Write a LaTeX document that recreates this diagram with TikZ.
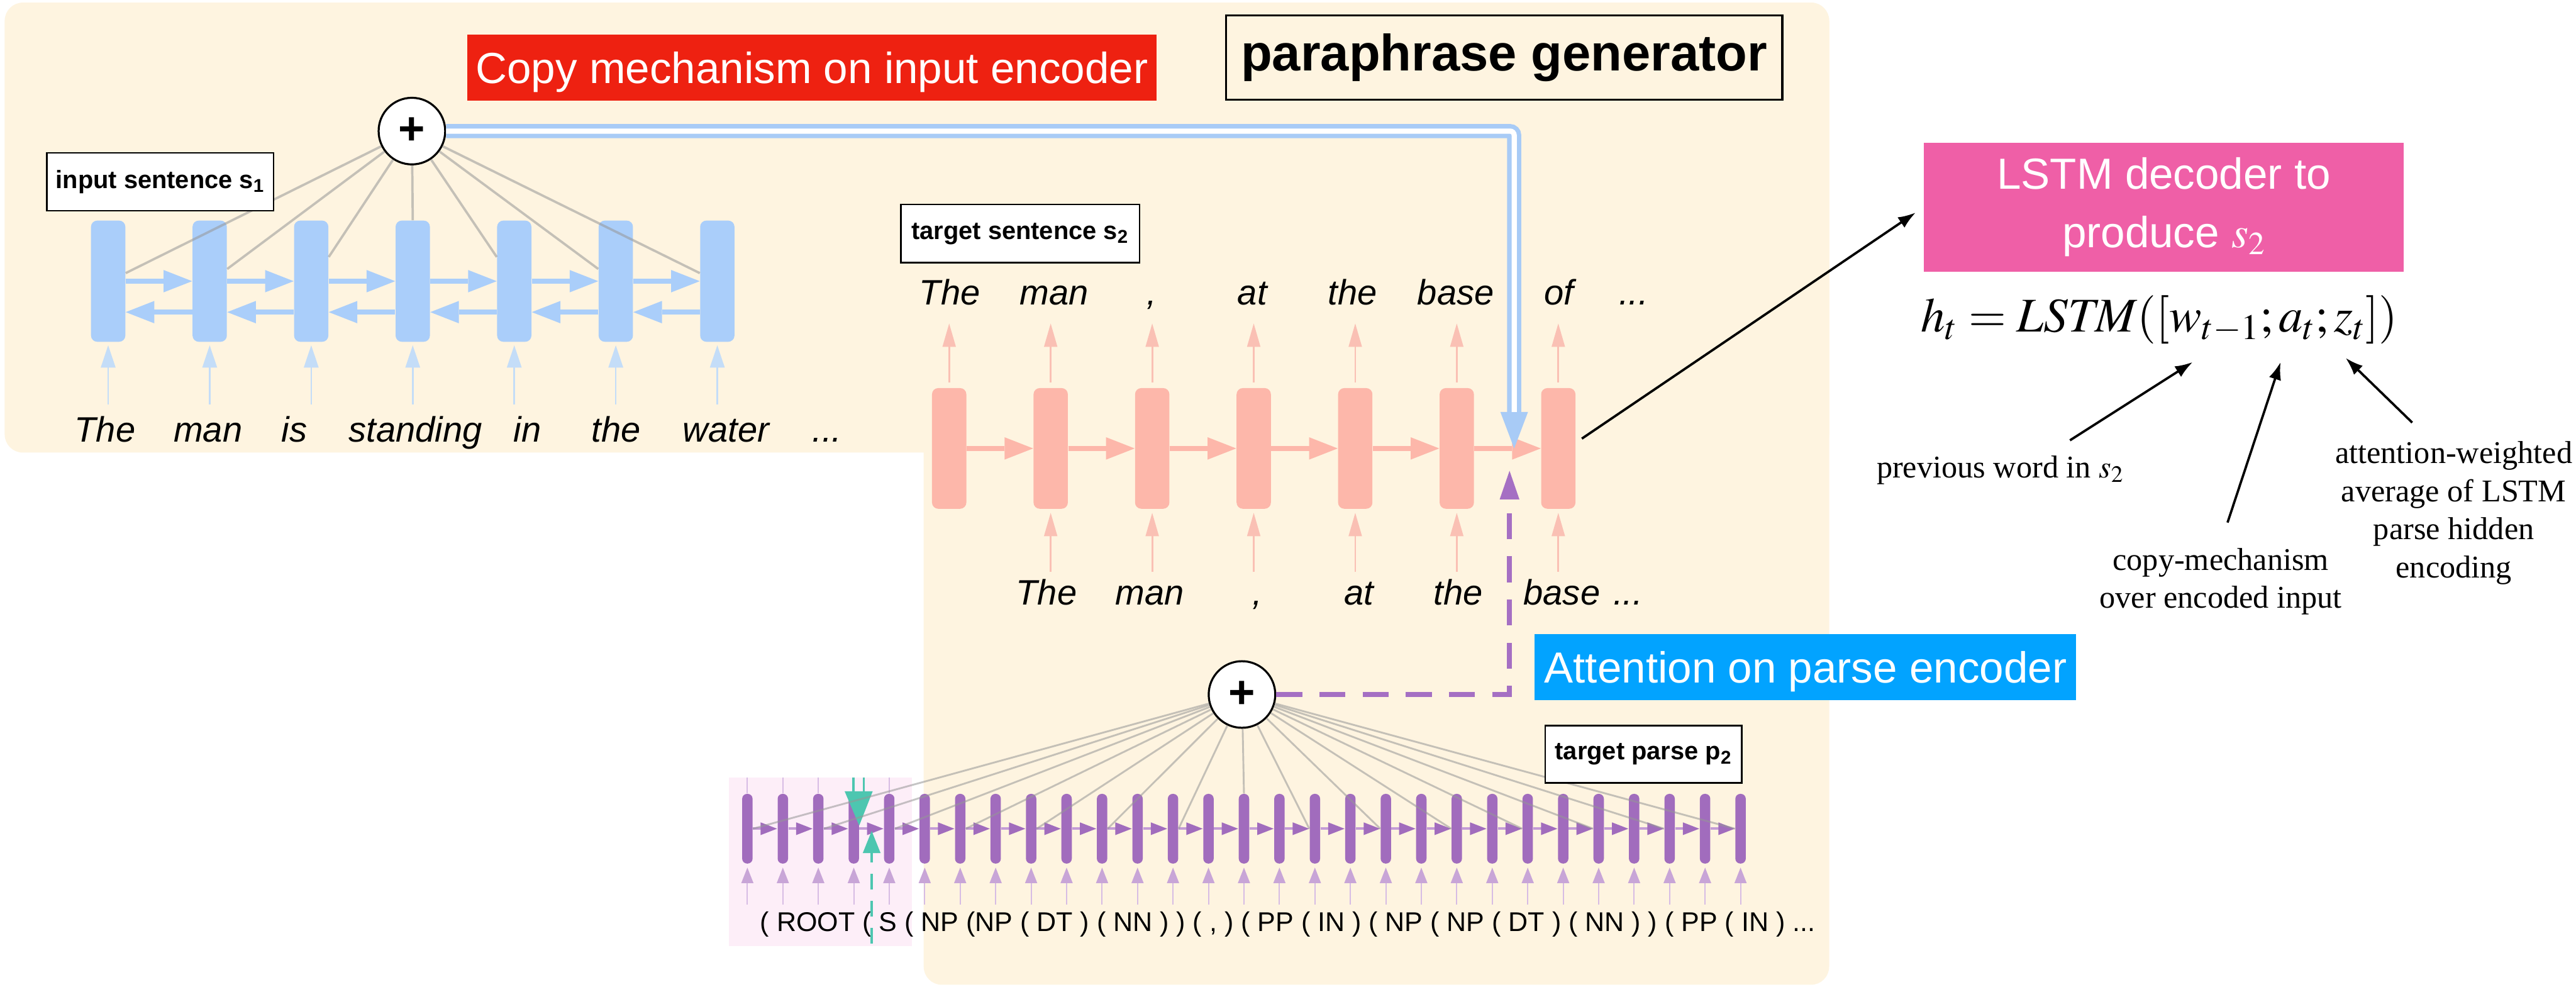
\documentclass[tikz,border=0pt]{standalone}
\usepackage{mathptmx}
\usepackage{fontspec}
\setmainfont{Liberation Serif}
\setsansfont{Liberation Sans}
\usetikzlibrary{arrows.meta,calc,positioning}

\definecolor{cream}{RGB}{254,244,224}
\definecolor{encblue}{RGB}{170,206,250}
\definecolor{encbluelight}{RGB}{196,221,248}
\definecolor{decpink}{RGB}{253,183,170}
\definecolor{decpinklight}{RGB}{250,192,180}
\definecolor{parsepurple}{RGB}{161,108,189}
\definecolor{parseline}{RGB}{196,156,214}
\definecolor{parselight}{RGB}{215,188,228}
\definecolor{parsehead}{RGB}{200,165,215}
\definecolor{parsebg}{RGB}{253,238,248}
\definecolor{tealc}{RGB}{77,198,176}
\definecolor{attpurple}{RGB}{165,111,195}
\definecolor{copyblue}{RGB}{168,203,246}
\definecolor{attgray}{RGB}{150,150,150}
\definecolor{bannerred}{RGB}{238,33,17}
\definecolor{bannerblue}{RGB}{2,163,255}
\definecolor{bannerpink}{RGB}{239,95,167}

\newcommand{\wordfont}{\sffamily\itshape\fontsize{19.3}{23}\selectfont}
\newcommand{\tagfont}{\sffamily\bfseries\fontsize{13.7}{16}\selectfont}
\newcommand{\bannerfont}{\sffamily\fontsize{23.8}{32}\selectfont}
\newcommand{\titlefont}{\sffamily\bfseries\fontsize{28}{32}\selectfont}
\newcommand{\parsefont}{\sffamily\fontsize{14.8}{17}\selectfont}
\newcommand{\notefont}{\rmfamily\fontsize{17.3}{20.8}\selectfont}
\newcommand{\eqfont}{\rmfamily\fontsize{26.5}{30}\selectfont}

\tikzset{
  enccell/.style={fill=encblue, minimum width=0.66cm, minimum height=2.33cm, inner sep=0pt, rounded corners=0.12cm},
  deccell/.style={enccell, fill=decpink, minimum height=2.32cm},
  parsecell/.style={fill=parsepurple, minimum width=0.2cm, minimum height=1.34cm, inner sep=0pt, rounded corners=0.095cm},
  sumnode/.style={circle, draw=black, line width=1.1pt, fill=white, minimum size=1.28cm, inner sep=0pt, font=\sffamily\bfseries\fontsize{25}{25}\selectfont},
  tagbox/.style={draw=black, line width=0.9pt, fill=white, inner sep=0pt, font=\tagfont},
  banner/.style={text=white, inner sep=0pt, font=\bannerfont},
  wordtok/.style={anchor=base, inner sep=0.1cm, font=\wordfont},
  encfwd/.style={draw=encblue, line width=0.09cm, -{Triangle[length=0.55cm, width=0.43cm, line width=0pt]}},
  encin/.style={draw=encbluelight, line width=0.03cm, shorten >=0.06cm, -{Triangle[length=0.43cm, width=0.28cm]}},
  decfwd/.style={encfwd, draw=decpink},
  decio/.style={draw=decpinklight, line width=0.035cm, -{Triangle[length=0.45cm, width=0.25cm]}},
  parsefwd/.style={draw=parseline, line width=0.05cm, -{Triangle[length=0.32cm, width=0.23cm, color=parsepurple]}},
  parsein/.style={draw=parselight, line width=0.025cm, shorten >=0.07cm, -{Triangle[length=0.30cm, width=0.23cm, color=parsehead]}},
  attline/.style={draw=attgray, line width=0.035cm, opacity=0.55},
  attdash/.style={draw=attpurple, line width=0.1cm, dash pattern=on 0.5cm off 0.33cm, -{Triangle[length=0.55cm, width=0.38cm, line width=0pt]}},
  annarrow/.style={draw=black, line width=0.045cm, -{Latex[length=0.34cm, width=0.24cm]}},
}

\begin{document}
\begin{tikzpicture}[x=1cm, y=-1cm]
\useasboundingbox (0,0) rectangle (49.53,18.97);
\fill[white] (0,0) rectangle (49.53,18.97);

% generator panel and the parse overlay
\fill[cream, rounded corners=0.35cm] (0.09,0.05) rectangle (35.17,8.70);
\fill[cream, rounded corners=0.35cm] (17.76,0.05) rectangle (35.17,18.93);
\fill[parsebg] (14.01,14.94) rectangle (17.53,18.19);

% input encoder
\foreach \i in {1,...,7}
  \node[enccell] (e\i) at ({2.08+1.952*(\i-1)},5.405) {};
\foreach \w/\x [count=\i] in {The/2.02, man/4.00, is/5.66, standing/7.99, in/10.14, the/11.85, water/13.96}
  \node[wordtok, text height=0.62cm] (w\i) at (\x,8.50) {\w};
\node[wordtok] (wdots) at (15.90,8.50) {...};
\foreach \i in {1,...,7}
  \draw[encin] (e\i |- w\i.north) -- (e\i.south);
\foreach \i [count=\j from 2] in {1,...,6} {
  \draw[encfwd] (e\i.east) -- (e\j.west);
  \draw[encfwd] ([yshift=-0.595cm]e\j.west) -- ([yshift=-0.595cm]e\i.east);
}
\node[sumnode] (cp1) at (7.92,2.52) {+};
\foreach \c/\a/\dy in {1/east/0.155, 2/east/0.235, 3/east/0.465, 5/west/0.465, 6/west/0.235, 7/west/0.155}
  \draw[attline, line width=0.045cm] (cp1) -- ([yshift=\dy cm]e\c.\a);
\draw[attline, line width=0.045cm] (cp1) -- (e4.north);

% decoder
\foreach \i in {1,...,7}
  \node[deccell] (d\i) at ({18.25+1.952*(\i-1)},8.62) {};
\foreach \w/\x [count=\i] in {The/18.26, man/20.27, {,}/22.14, at/24.08, the/26.01, base/27.99, of/29.97}
  \node[wordtok, text depth=0.25cm] (t\i) at (\x,5.86) {\w};
\node[wordtok] (tdots) at (31.41,5.86) {...};
\foreach \w/\x [count=\i from 2] in {The/20.12, man/22.11, {,}/24.17, at/26.13, the/28.04, base/30.03}
  \node[wordtok, text height=0.53cm] (b\i) at (\x,11.63) {\w};
\node[wordtok] (bdots) at (31.30,11.63) {...};
\foreach \i in {1,...,7}
  \draw[decio, shorten <=0.1cm] (d\i.north) -- (d\i |- t\i.south);
\foreach \i in {2,...,7}
  \draw[decio, shorten >=0.07cm] (d\i |- b\i.north) -- (d\i.south);
\foreach \i [count=\j from 2] in {1,...,6}
  \draw[decfwd] (d\i.east) -- (d\j.west);

% parse encoder
\foreach \i in {0,...,28}
  \node[parsecell] (p\i) at ({14.37+0.682*\i},15.93) {};
\node[anchor=base, inner sep=0.05cm, text height=0.45cm, font=\parsefont] (ptext) at (24.76,17.90)
  {( ROOT ( S ( NP (NP ( DT ) ( NN ) ) ( , ) ( PP ( IN ) ( NP ( NP ( DT ) ( NN ) ) ( PP ( IN ) ...};
\foreach \i [count=\j from 1] in {0,...,27}
  \draw[parsefwd] (p\i.east) -- (p\j.west);
\foreach \i in {0,...,28}
  \draw[parsein] (p\i |- ptext.north) -- (p\i.south);
\coordinate (ptop) at (14.37,14.94);
\foreach \i in {0,1,2,4}
  \draw[draw=parselight, line width=0.025cm] (p\i.north) -- (p\i |- ptop);
\draw[tealc, line width=0.04cm] (16.41,14.94) -- (16.41,15.25) (16.61,14.94) -- (16.61,15.25);
\fill[tealc] (16.24,15.21) -- (16.78,15.21) -- (16.52,15.87) -- cycle;
\draw[tealc, line width=0.05cm, dash pattern=on 0.3cm off 0.22cm, -{Triangle[length=0.43cm, width=0.33cm]}] (16.76,18.14) -- (16.76,15.97);
\node[sumnode] (pp) at (23.88,13.35) {+};
\foreach \i in {0,2,...,12}
  \draw[attline] (pp) -- (p\i.east);
\draw[attline] (pp) -- (p14.north);
\foreach \i in {16,18,...,28}
  \draw[attline] (pp) -- (p\i.west);

% copy and attention paths into the decoder
\coordinate (copyin) at ($(d6.east)!0.6!(d7.west)$);
\coordinate (attin) at ($(d6.east)!0.53!(d7.west)+(0,0.43)$);
\draw[copyblue, line width=0.27cm, rounded corners=0.08cm, -{Triangle[length=0.7cm, width=0.53cm, line width=0pt]}] (cp1.east) -| (copyin);
\draw[white, line width=0.10cm, rounded corners=0.08cm, shorten >=0.7cm] (cp1.east) -| (copyin);
\draw[attdash] (pp.east) -| (attin);

% labels
\node[tagbox, minimum width=4.36cm, minimum height=1.11cm] (s1tag) at (3.08,3.495) {input sentence s\textsubscript{1}};
\node[tagbox, minimum width=4.59cm, minimum height=1.12cm] (s2tag) at (19.615,4.49) {target sentence s\textsubscript{2}};
\node[tagbox, minimum width=3.78cm, minimum height=1.10cm] (p2tag) at (31.60,14.50) {target parse p\textsubscript{2}};
\node[draw=black, line width=1.1pt, minimum width=10.70cm, minimum height=1.62cm, inner sep=0pt, font=\titlefont] (gen) at (28.92,1.11) {paraphrase generator};
\node[banner, fill=bannerred, minimum width=13.26cm, minimum height=1.26cm, text height=0.6cm, text depth=0pt] (copylab) at (15.61,1.30) {Copy mechanism on input encoder};
\node[banner, fill=bannerblue, minimum width=10.41cm, minimum height=1.27cm, text height=0.6cm, text depth=0pt] (attlab) at (34.715,12.825) {Attention on parse encoder};
\node[banner, fill=bannerpink, minimum width=9.23cm, minimum height=2.47cm, align=center] (lstm) at (41.605,3.985) {LSTM decoder to\\produce $s_2$};

% decoder update and what feeds it
\node[font=\eqfont, anchor=base] (eq) at (41.52,6.38) {$h_t = \mathit{LSTM}([w_{t-1}; a_t; z_t])$};
\node[font=\notefont, anchor=base] (prevw) at (38.46,9.18) {previous word in $s_2$};
\node[font=\notefont, align=center] (copym) at (42.70,11.18) {copy-mechanism\\over encoded input};
\node[font=\notefont, align=center] (attw) at (47.18,9.86) {attention-weighted\\average of LSTM\\parse hidden\\encoding};
\coordinate (wt) at (42.16,6.96);
\coordinate (at) at (43.85,6.96);
\coordinate (zt) at (45.10,6.88);
\draw[annarrow, shorten <=0.14cm, shorten >=0.18cm] ([yshift=0.11cm]d7.east) -- (lstm.west);
\draw[annarrow] ([xshift=1.34cm, yshift=0.17cm]prevw.north) -- (wt);
\draw[annarrow] ([xshift=0.13cm, yshift=0.37cm]copym.north) -- (at);
\draw[annarrow] ([xshift=-0.80cm, yshift=0.24cm]attw.north) -- (zt);
\end{tikzpicture}
\end{document}
